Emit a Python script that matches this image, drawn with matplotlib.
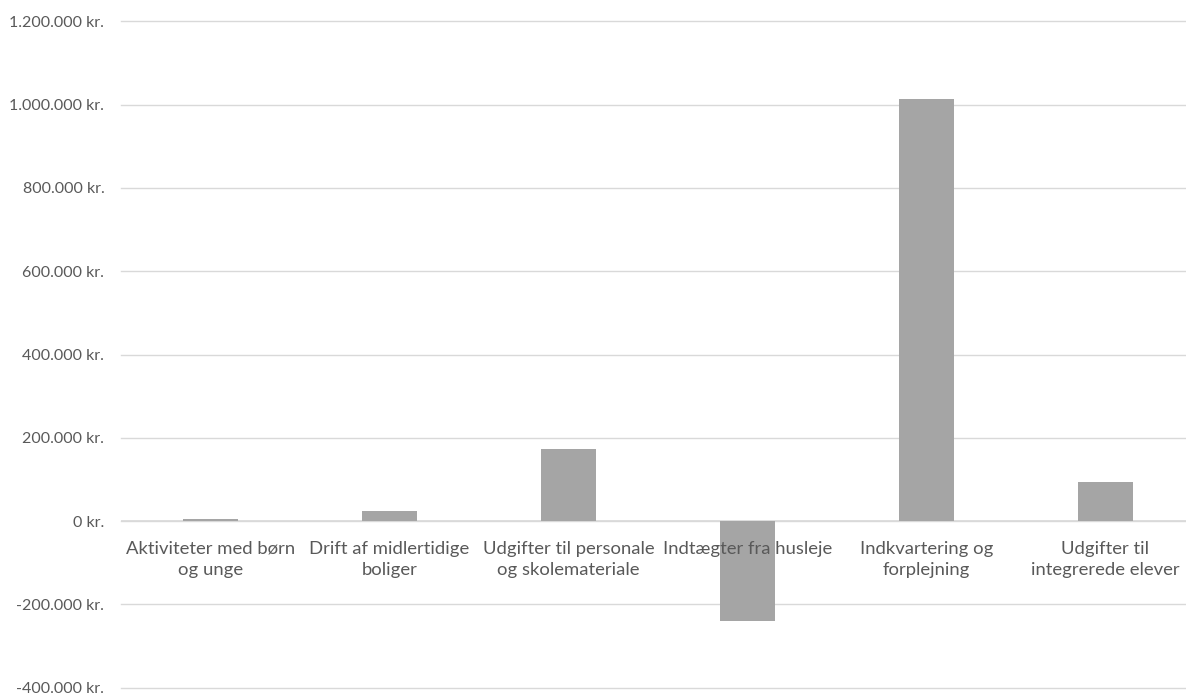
import matplotlib
matplotlib.use("Agg")
import matplotlib.pyplot as plt
from matplotlib.ticker import FuncFormatter, MultipleLocator

categories = [
    "Aktiviteter med børn\nog unge",
    "Drift af midlertidige\nboliger",
    "Udgifter til personale\nog skolemateriale",
    "Indtægter fra husleje",
    "Indkvartering og\nforplejning",
    "Udgifter til\nintegrerede elever",
]
values = [5000, 25000, 174000, -239000, 1013000, 95000]

plt.rcParams['font.family'] = ['Lato', 'DejaVu Sans']


def kr(v, pos):
    # Danish thousands separator
    s = f"{abs(int(v)):,}".replace(",", ".")
    return ("-" if v < 0 else "") + s + " kr."


fig = plt.figure(figsize=(11.86, 6.95), dpi=100)
ax = fig.add_axes([121 / 1186, 1 - 687.7 / 695, 1 - 121 / 1186, (687.7 - 21.4) / 695])

x = list(range(len(categories)))
ax.bar(x, values, width=0.31, color="#A5A5A5", zorder=2)

ax.set_ylim(-400000, 1200000)
ax.set_xlim(-0.5, 5.45)
ax.yaxis.set_major_locator(MultipleLocator(200000))
ax.yaxis.set_major_formatter(FuncFormatter(kr))
ax.grid(axis="y", color="#D9D9D9", linewidth=1.0, zorder=0)
for gl in ax.get_ygridlines():
    gl.set_clip_on(False)
ax.axhline(0, color="#D9D9D9", linewidth=1.2, zorder=1)

for s in ax.spines.values():
    s.set_visible(False)
ax.tick_params(axis="y", length=0, pad=12, labelsize=11.5, labelcolor="#595959")
ax.set_xticks([])

for xi, lab in zip(x, categories):
    ax.annotate(lab, xy=(xi, 0), xytext=(0, -14), textcoords="offset points",
                ha="center", va="top", fontsize=13.3, color="#595959",
                linespacing=1.4, zorder=3)

fig.savefig("out.png", dpi=100)
